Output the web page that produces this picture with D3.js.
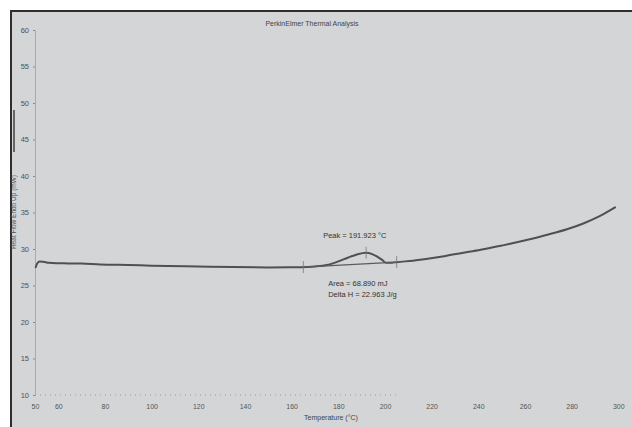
<!DOCTYPE html>
<html>
<head>
<meta charset="utf-8">
<script src="https://cdn.jsdelivr.net/npm/d3@7"></script>
<style>
  html, body { margin: 0; padding: 0; background: #ffffff; }
  svg { display: block; font-family: "Liberation Sans", Arial, sans-serif; }
</style>
</head>
<body>
<svg id="chart" width="632" height="427"></svg>
<script>
// DSC scan: heat flow (mW) vs temperature (°C)
const temperature = [50.3, 51.0, 52.0, 53.5, 56, 60, 64, 70, 78, 90, 100, 107, 120, 135, 150, 164,
  170, 175, 180, 184, 188, 191.9, 194.5, 197, 199, 200.5, 203, 205, 212, 219, 226, 233, 241,
  249, 256, 263, 270, 278, 285, 292, 298.6];
const heatFlow = [27.5, 28.05, 28.3, 28.25, 28.1, 28.05, 28.03, 28.0, 27.88, 27.8, 27.72, 27.67, 27.6,
  27.52, 27.48, 27.5, 27.6, 27.8, 28.3, 28.8, 29.25, 29.48, 29.3, 28.9, 28.45, 28.1, 28.12, 28.2,
  28.4, 28.7, 29.05, 29.45, 29.9, 30.4, 30.9, 31.4, 31.98, 32.7, 33.5, 34.5, 35.7];

// Peak integration limits and results
const peakLimits = [165, 205];
const peakTemp = 191.923;
const peakLabels = ["Peak = 191.923 °C", "Area = 68.890 mJ", "Delta H = 22.963 J/g"];

// Axis ticks
const xTicks = [50, 60, 80, 100, 120, 140, 160, 180, 200, 220, 240, 260, 280, 300];
const yTicks = [10, 15, 20, 25, 30, 35, 40, 45, 50, 55, 60];

const titleText = "PerkinElmer Thermal Analysis";
const xLabel = "Temperature (°C)";
const yLabel = "Heat Flow Endo Up (mW)";

const svg = d3.select("#chart");

// plot frame
svg.append("rect").attr("x", 11).attr("y", 11).attr("width", 621).attr("height", 416)
  .attr("fill", "#d4d5d7");
svg.append("line").attr("x1", 10).attr("x2", 632).attr("y1", 11).attr("y2", 11)
  .attr("stroke", "#2e2e2e").attr("stroke-width", 2);
svg.append("line").attr("x1", 11).attr("x2", 11).attr("y1", 10).attr("y2", 427)
  .attr("stroke", "#2e2e2e").attr("stroke-width", 2);

const x = d3.scaleLinear().domain([50, 300]).range([35, 618.3]);
const y = d3.scaleLinear().domain([10, 60]).range([395, 30]);

// y axis
const yAxis = svg.append("g").attr("transform", `translate(${x(50)},0)`)
  .call(d3.axisLeft(y).tickValues(yTicks).tickSize(2).tickPadding(4).tickFormat(d3.format("d")));
yAxis.attr("font-family", null);
yAxis.select(".domain").attr("stroke", "#a9aaad").attr("stroke-width", 1);
yAxis.selectAll(".tick line").attr("stroke", "#8a8b8e");
yAxis.selectAll("text").attr("fill", "#505050").style("font-size", "7.5px");

// x axis (labels only, faint dotted baseline)
const xAxis = svg.append("g").attr("transform", `translate(0,${y(10)})`)
  .call(d3.axisBottom(x).tickValues(xTicks).tickSize(0).tickPadding(9).tickFormat(d3.format("d")));
xAxis.attr("font-family", null);
xAxis.select(".domain").remove();
xAxis.selectAll("text").attr("fill", "#555").style("font-size", "7px");
svg.append("line").attr("x1", x(50)).attr("x2", x(205)).attr("y1", y(10)).attr("y2", y(10))
  .attr("stroke", "#9c9da0").attr("stroke-width", 1).attr("stroke-dasharray", "1,4");

// titles
svg.append("text").attr("x", 312).attr("y", 26).attr("text-anchor", "middle")
  .attr("fill", "#444").style("font-size", "7px").text(titleText);
svg.append("text").attr("x", 331).attr("y", 420).attr("text-anchor", "middle")
  .attr("fill", "#444").style("font-size", "7px").text(xLabel);
svg.append("text").attr("transform", "translate(16,212) rotate(-90)").attr("text-anchor", "middle")
  .attr("fill", "#555").style("font-size", "6.5px").text(yLabel);
svg.append("line").attr("x1", 14).attr("x2", 14).attr("y1", 110).attr("y2", 152)
  .attr("stroke", "#666").attr("stroke-width", 2);

// heat flow curve
const pts = temperature.map((t, i) => [t, heatFlow[i]]);
const line = d3.line().x(d => x(d[0])).y(d => y(d[1])).curve(d3.curveMonotoneX);
svg.append("path").datum(pts).attr("d", line)
  .attr("fill", "none").attr("stroke", "#4f5052").attr("stroke-width", 2)
  .attr("stroke-linejoin", "round").attr("stroke-linecap", "round");

// interpolate heat flow at a temperature
function flowAt(t) {
  const i = d3.bisectLeft(temperature, t);
  if (i <= 0) return heatFlow[0];
  if (i >= temperature.length) return heatFlow[heatFlow.length - 1];
  const t0 = temperature[i - 1], t1 = temperature[i];
  return heatFlow[i - 1] + (heatFlow[i] - heatFlow[i - 1]) * (t - t0) / (t1 - t0);
}

// integration baseline and limit markers
const b0 = [peakLimits[0], flowAt(peakLimits[0])];
const b1 = [peakLimits[1], flowAt(peakLimits[1])];
svg.append("line").attr("x1", x(b0[0])).attr("y1", y(b0[1])).attr("x2", x(b1[0])).attr("y2", y(b1[1]))
  .attr("stroke", "#5a5b5d").attr("stroke-width", 1.2);
[b0, b1, [peakTemp, flowAt(peakTemp)]].forEach(p => {
  svg.append("line").attr("x1", x(p[0])).attr("x2", x(p[0]))
    .attr("y1", y(p[1]) - 6).attr("y2", y(p[1]) + 6)
    .attr("stroke", "#777").attr("stroke-width", 0.8);
});

// peak annotations
svg.append("text").attr("x", x(peakTemp) - 43).attr("y", y(flowAt(peakTemp)) - 15)
  .attr("fill", "#333").style("font-size", "7.5px").text(peakLabels[0]);
svg.append("text").attr("x", x(peakTemp) - 38).attr("y", y(flowAt(peakTemp)) + 33)
  .attr("fill", "#333").style("font-size", "7.5px").text(peakLabels[1]);
svg.append("text").attr("x", x(peakTemp) - 38).attr("y", y(flowAt(peakTemp)) + 44)
  .attr("fill", "#333").style("font-size", "7.5px").text(peakLabels[2]);
</script>
</body>
</html>
